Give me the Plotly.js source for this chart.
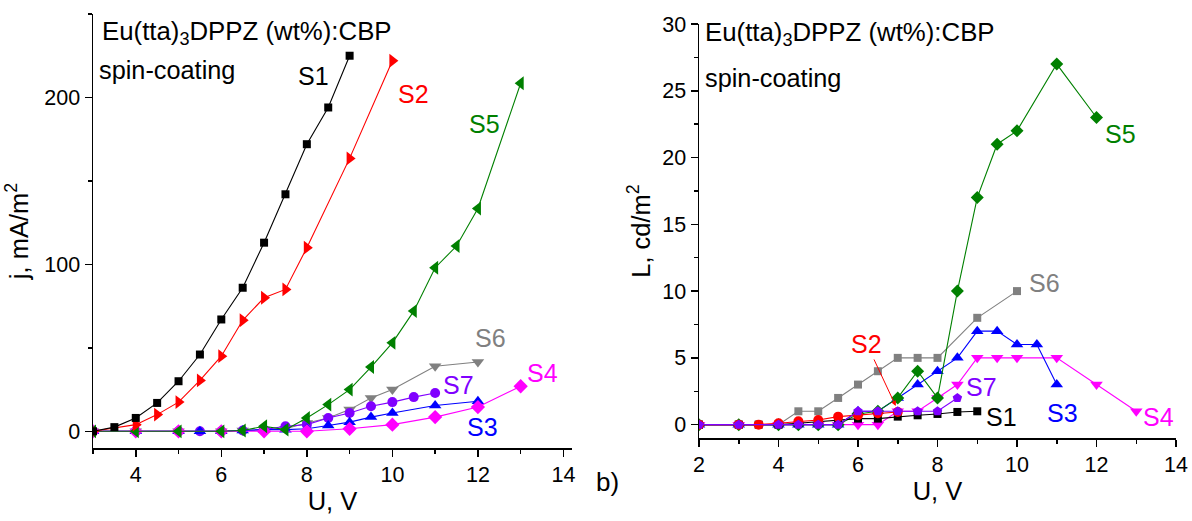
<!DOCTYPE html>
<html>
<head>
<meta charset="utf-8">
<script src="https://cdn.plot.ly/plotly-3.0.1.min.js"></script>
<style>html,body{margin:0;padding:0;background:#fff}#chart{width:1192px;height:521px}</style>
</head>
<body>
<div id="chart"></div>
<script>
// ---- Left panel: current density j (mA/m^2) vs U (V) ----
const jS1x = [3,3.5,4,4.5,5,5.5,6,6.5,7,7.5,8,8.5,9];
const jS1y = [0,2.5,8,17,30,46,67,86,113,142,172,194,225];
const jS2x = [3,4,4.5,5,5.5,6,6.5,7,7.5,8,9,10];
const jS2y = [0,4,10,17.5,30.5,45,66.5,80,85,110,163.5,222];
const jS3x = [3,4,5,5.5,6,6.5,7,7.5,8,8.5,9,9.5,10,11,12];
const jS3y = [0,0,0,0,0,0.5,1,1,1.5,3.5,5.5,8.5,11,15.5,18];
const jS4x = [3,4,5,6,7,8,9,10,11,12,13];
const jS4y = [0,0,0,0,0,0,1.5,4,8.5,14.5,27];
const jS5x = [3,4,5,6,6.5,7,7.5,8,8.5,9,9.5,10,10.5,11,11.5,12,13];
const jS5y = [0,0,0,0,0.5,3,1,8,16,25,38.5,53,72,98,111,133.5,208.5];
const jS6x = [3,4,5,6,6.5,7,7.5,8,8.5,9,9.5,10,11,12];
const jS6y = [0,0,0,0,0.5,1,1.5,5,8,13,20,25,39,41.5];
const jS7x = [3,4,5,5.5,6,6.5,7,7.5,8,8.5,9,9.5,10,10.5,11];
const jS7y = [0,0,0,0,0,0.5,1,3,4,8,11,15,17.5,20.5,23];

// ---- Right panel: luminance L (cd/m^2) vs U (V) ----
const LS1x = [2,3,3.5,4,4.5,5,5.5,6,6.5,7,7.5,8,8.5,9];
const LS1y = [0,0,0,0,0.1,0.2,0.3,0.45,0.45,0.6,0.7,0.8,0.95,1];
const LS2x = [2,3,3.5,4,4.5,5,5.5,6,6.5,7];
const LS2y = [0,0,0,0.1,0.25,0.35,0.6,0.7,0.85,0.95];
const LS3x = [2,3,4,4.5,5,5.5,6,6.5,7,7.5,8,8.5,9,9.5,10,10.5,11];
const LS3y = [0,0,0,0,0,0,1,1,2,3,4,5,7,7,6,6,3];
const LS4x = [2,3,4,4.5,5,5.5,6,6.5,7,7.5,8,8.5,9,9.5,10,11,12,13];
const LS4y = [0,0,0,0,0,0,0,0,1,1,2,3,5,5,5,5,3,1];
const LS5x = [2,3,4,4.5,5,5.5,6,6.5,7,7.5,8,8.5,9,9.5,10,11,12];
const LS5y = [0,0,0,0,0,0,0.8,1,2,4,2,10,17,21,22,27,23];
const LS6x = [2,3,4,4.5,5,5.5,6,6.5,7,7.5,8,9,10];
const LS6y = [0,0,0,1,1,2,3,4,5,5,5,8,10];
const LS7x = [2,3,4,4.5,5,5.5,6,6.5,7,7.5,8,8.5];
const LS7y = [0,0,0,0,0,0,1,1,1,1,1,2];

const seriesNames = ['S1','S2','S3','S4','S5','S6','S7'];
const colors = {S1:'#000000',S2:'#ff0000',S3:'#0000ff',S4:'#ff00ff',S5:'#008000',S6:'#808080',S7:'#8000ff'};

function tr(x, y, name, sym, xa, ya, size) {
  return {x:x, y:y, name:name, type:'scatter', mode:'lines+markers', xaxis:xa, yaxis:ya,
    line:{color:colors[name], width:1.1},
    marker:{color:colors[name], symbol:sym, size:size||9, line:{width:0}},
    showlegend:false, hoverinfo:'skip'};
}

const data = [
  tr(jS6x,jS6y,'S6','triangle-down','x','y',11),
  tr(jS7x,jS7y,'S7','circle','x','y',10),
  tr(jS3x,jS3y,'S3','triangle-up','x','y',11),
  tr(jS4x,jS4y,'S4','diamond','x','y',11),
  tr(jS5x,jS5y,'S5','triangle-left','x','y',12),
  tr(jS2x,jS2y,'S2','triangle-right','x','y',12),
  tr(jS1x,jS1y,'S1','square','x','y',8),
  tr(LS6x,LS6y,'S6','square','x2','y2',8),
  tr(LS4x,LS4y,'S4','triangle-down','x2','y2',11),
  tr(LS3x,LS3y,'S3','triangle-up','x2','y2',11),
  tr(LS5x,LS5y,'S5','diamond','x2','y2',10),
  tr(LS1x,LS1y,'S1','square','x2','y2',8),
  tr(LS2x,LS2y,'S2','circle','x2','y2',10),
  tr(LS7x,LS7y,'S7','pentagon','x2','y2',10)
];

const W = 1192, H = 521;
const FAM = 'Liberation Sans, Arial, sans-serif';
const TICKF = {family:FAM, size:21.5, color:'#000'};
function ax(extra) {
  return Object.assign({
    showline:true, linecolor:'#000', linewidth:1.5, mirror:false,
    ticks:'outside', ticklen:7, tickwidth:1.5, tickcolor:'#000',
    showgrid:false, zeroline:false, tickfont:TICKF, fixedrange:true
  }, extra);
}

const labelFont = s => ({family:FAM, size:s||25});
function lab(text, xref, yref, x, y, color) {
  return {text:text, xref:xref, yref:yref, x:x, y:y, showarrow:false,
    font:Object.assign(labelFont(25), {color:color}), xanchor:'center', yanchor:'middle'};
}
function ptxt(text, px, py, s) {
  return {text:text, xref:'paper', yref:'paper', x:px/W, y:1-py/H, showarrow:false,
    xanchor:'left', yanchor:'middle', font:Object.assign(labelFont(s), {color:'#000'})};
}

const annotations = [
  ptxt('Eu(tta)<sub>3</sub>DPPZ (wt%):CBP', 100, 33, 25.8),
  ptxt('spin-coating', 97, 70, 25.3),
  ptxt('Eu(tta)<sub>3</sub>DPPZ (wt%):CBP', 703, 34, 25.8),
  ptxt('spin-coating', 703, 78, 25.3),
  lab('S1','x','y',8.15,213,colors.S1),
  lab('S2','x','y',10.5,202,colors.S2),
  lab('S5','x','y',12.15,184,colors.S5),
  lab('S6','x','y',12.3,56,colors.S6),
  lab('S7','x','y',11.55,28,colors.S7),
  lab('S4','x','y',13.5,35,colors.S4),
  lab('S3','x','y',12.1,2.5,colors.S3),
  lab('S5','x2','y2',12.6,21.8,colors.S5),
  lab('S6','x2','y2',10.7,10.6,colors.S6),
  lab('S7','x2','y2',9.1,2.8,colors.S7),
  lab('S1','x2','y2',9.6,0.6,colors.S1),
  lab('S3','x2','y2',11.15,0.9,colors.S3),
  lab('S4','x2','y2',13.55,0.55,colors.S4),
  {text:'S2', xref:'x2', yref:'y2', x:6.95, y:1.4, ax:-29, ay:-62, showarrow:true,
   arrowhead:2, arrowsize:1, arrowwidth:1, arrowcolor:colors.S2, standoff:0,
   font:Object.assign(labelFont(25), {color:colors.S2})},
  {text:'b)', xref:'paper', yref:'paper', x:607/W, y:1-482/H, showarrow:false,
   xanchor:'center', yanchor:'middle', font:Object.assign(labelFont(26), {color:'#000'})}
];

const layout = {
  width:W, height:H, margin:{l:0,r:0,t:0,b:0},
  paper_bgcolor:'#fff', plot_bgcolor:'#fff', showlegend:false,
  font:{family:FAM, color:'#000'},
  xaxis: ax({domain:[93/W, 572/W], range:[3,14.2], anchor:'y', tick0:0, dtick:2,
    minor:{dtick:1, tick0:0, ticks:'outside', ticklen:4, tickwidth:1.5, tickcolor:'#000'},
    title:{text:'U, V', font:{size:25.5}, standoff:3}}),
  yaxis: ax({domain:[1-448/H, 1-14/H], range:[-10,250], anchor:'x', tick0:0, dtick:100,
    minor:{dtick:50, tick0:0, ticks:'outside', ticklen:4, tickwidth:1.5, tickcolor:'#000'},
    title:{text:'j, mA/m<sup>2</sup>', font:{size:25.5}, standoff:8}}),
  xaxis2: ax({domain:[699/W, 1176/W], range:[2,14], anchor:'y2', tick0:0, dtick:2,
    minor:{dtick:1, tick0:0, ticks:'outside', ticklen:4, tickwidth:1.5, tickcolor:'#000'},
    title:{text:'U, V', font:{size:25.5}, standoff:6}}),
  yaxis2: ax({domain:[1-438/H, 1-24/H], range:[-1,30], anchor:'x2', tick0:0, dtick:5,
    minor:{dtick:2.5, tick0:0, ticks:'outside', ticklen:4, tickwidth:1.5, tickcolor:'#000'},
    title:{text:'L, cd/m<sup>2</sup>', font:{size:25.5}, standoff:4}}),
  annotations: annotations
};

Plotly.newPlot('chart', data, layout, {displayModeBar:false, staticPlot:true});
</script>
</body>
</html>
